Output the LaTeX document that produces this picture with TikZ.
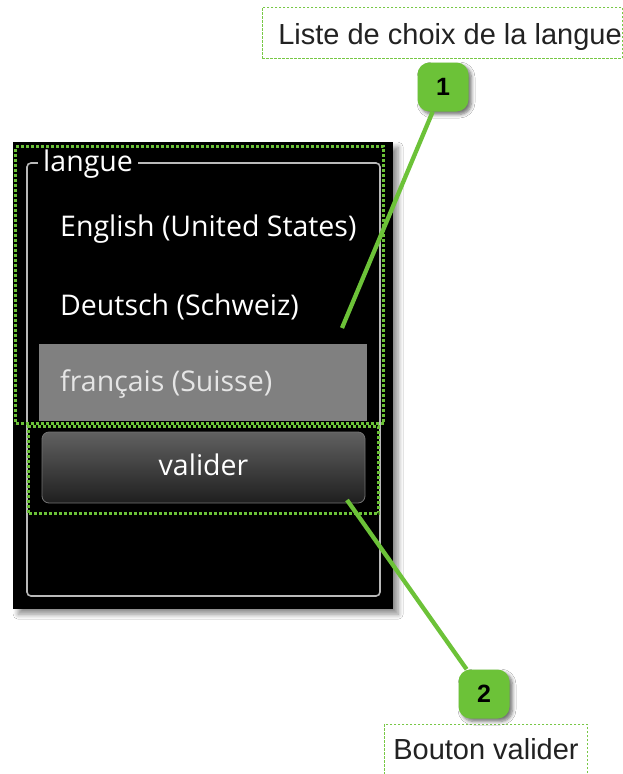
\documentclass[tikz,border=0pt]{standalone}
\usepackage{fontspec}
\setmainfont{Liberation Sans}
\newfontfamily\uifont{Open Sans}
\usetikzlibrary{shadows.blur}
\definecolor{callgreen}{RGB}{108,194,56}
\definecolor{boxgreen}{RGB}{120,200,70}
\definecolor{framegray}{RGB}{185,185,185}
\definecolor{selgray}{RGB}{128,128,128}
\definecolor{labeltext}{RGB}{34,34,34}
\tikzset{
  panel/.style={fill=black, draw=none, anchor=north west, inner sep=0pt,
    blur shadow={shadow xshift=5pt, shadow yshift=-5pt, shadow blur steps=8, shadow blur radius=5pt, shadow opacity=45}},
  hilite/.style={draw=callgreen, line width=3pt, dash pattern=on 3pt off 2pt},
  callout/.style={draw=boxgreen, line width=0.9pt, dash pattern=on 2.5pt off 1.5pt, inner sep=0pt, anchor=north west},
  labelfont/.style={font=\fontsize{29}{32}\selectfont, text=labeltext},
  badge/.style={fill=callgreen, rounded corners=12pt, minimum width=51pt, minimum height=49pt, inner sep=0pt,
    font=\fontsize{25}{27}\selectfont\bfseries, text=black,
    blur shadow={shadow xshift=3pt, shadow yshift=-3pt, shadow blur steps=6, shadow blur radius=3.5pt, shadow opacity=55}},
  leader/.style={draw=callgreen, line width=4.3pt},
  uitext/.style={font=\uifont\fontsize{28.5}{31}\selectfont, text=white, inner sep=0pt, anchor=base west},
}
\begin{document}
\begin{tikzpicture}[x=1pt, y=-1pt]
\useasboundingbox[fill=white] (0,0) rectangle (623,774);
% panel
\node[panel, minimum width=380pt, minimum height=467pt] (panel) at (13,142) {};
% group frame
\draw[framegray, line width=1.6pt, rounded corners=4pt] (27,163) rectangle (380,596);
\node[uitext, fill=black, inner xsep=5pt, inner ysep=2pt] (langue) at (38,171) {langue};
% list items
\node[uitext] (en) at (60,236) {English (United States)};
\node[uitext] (de) at (60,315) {Deutsch (Schweiz)};
\fill[selgray] (39,344) rectangle (367,421);
\node[uitext, text=white!90!black] (fr) at (60,391) {français (Suisse)};
% button
\draw[draw=black!55, line width=0.8pt, rounded corners=7pt, top color=black!62, bottom color=black!88] (42,432) rectangle (365,503);
\node[uitext, anchor=base] (val) at (203.5,475) {valider};
% green highlight boxes
\node[hilite, minimum width=368pt, minimum height=277pt, anchor=north west, inner sep=0pt] (list) at (14,145) {};
\node[hilite, minimum width=350pt, minimum height=87pt, anchor=north west, inner sep=0pt] (btn) at (27,425) {};
% callout labels
\node[callout, minimum width=360pt, minimum height=51pt] (lab1) at (262,7) {};
\node[labelfont, anchor=base] (lab1t) at (450,44) {Liste de choix de la langue};
\node[callout, minimum width=203pt, minimum height=50pt] (lab2) at (384,724) {};
\node[labelfont, anchor=base] (lab2t) at (486,759) {Bouton valider};
% leaders and badges
\coordinate (end1) at (342,328);
\coordinate (end2) at (347,500);
\node[badge] (b1) at (443,87) {1};
\node[badge] (b2) at (484,694) {2};
\draw[leader] (b1) -- (end1);
\draw[leader] (b2) -- (end2);
\end{tikzpicture}
\end{document}
